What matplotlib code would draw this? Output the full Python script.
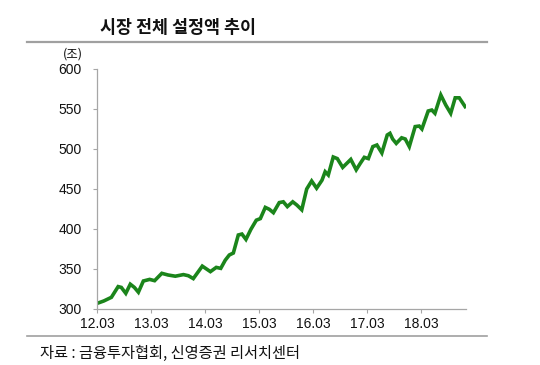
import matplotlib
matplotlib.use("Agg")
import matplotlib.pyplot as plt
from matplotlib.lines import Line2D

# months since 2012.03 and fund balance (trillion won)
months = [0.0, 1.5, 3.2, 4.7, 5.4, 6.4, 7.4, 8.3, 9.2, 10.3, 11.7, 12.8, 14.4,
          15.8, 17.4, 19.2, 20.3, 21.4, 23.4, 25.2, 26.5, 27.5, 28.5, 29.4,
          30.3, 31.4, 32.2, 33.1, 34.2, 35.4, 36.3, 37.4, 38.3, 39.2, 40.5,
          41.4, 42.3, 43.5, 44.4, 45.5, 46.6, 47.7, 48.8, 50.0, 50.7, 51.4,
          52.5, 53.4, 54.6, 55.5, 56.4, 57.6, 58.5, 59.4, 60.3, 61.3, 62.2,
          63.3, 64.5, 65.1, 65.7, 66.5, 67.7, 68.5, 69.4, 70.7, 71.6, 72.2,
          73.6, 74.4, 75.1, 76.4, 77.5, 78.6, 79.6, 80.5, 81.8]
values = [307, 310, 314.6, 328, 327, 319.6, 331, 327, 321, 335, 337, 335.4,
          344.6, 342.5, 341, 343, 341.6, 338, 353.6, 346.7, 352, 350.8, 361,
          367.5, 370, 392.5, 393.7, 387, 399.6, 411, 413, 427, 424.6, 420.4,
          433, 434, 428, 434, 430, 424, 450, 460, 451, 461, 471.6, 467.5, 490,
          488, 477, 482, 487, 474, 482, 489.6, 488, 503, 505, 495, 517.5,
          519.6, 512.5, 507, 514, 512.5, 503, 528, 528.7, 525, 547.5, 548.7,
          544.6, 567.5, 555, 544.6, 564, 564, 553]
tick_pos = [0, 12, 24, 36, 48, 60, 72]
tick_labels = ["12.03", "13.03", "14.03", "15.03", "16.03", "17.03", "18.03"]
y_ticks = [300, 350, 400, 450, 500, 550, 600]

kr = ["Noto Sans CJK KR", "DejaVu Sans"]
num = ["Liberation Sans", "DejaVu Sans"]
axis_grey = "#a6a6a6"

fig = plt.figure(figsize=(5.4, 3.65), dpi=100)
ax = fig.add_axes([97 / 540, 1 - 309 / 365, (466 - 97) / 540, 240 / 365])

ax.plot(months, values, color="#1b851b", lw=2.6, solid_joinstyle="miter")

ax.set_xlim(0, 82)
ax.set_ylim(300, 600)
ax.set_xticks(tick_pos)
ax.set_xticklabels(tick_labels, fontfamily=num, fontsize=10)
ax.set_yticks(y_ticks)
ax.set_yticklabels([str(v) for v in y_ticks], fontfamily=num, fontsize=10)
ax.tick_params(axis="both", colors=axis_grey, labelcolor="#111111",
               length=3, width=0.8)
ax.tick_params(axis="y", pad=8)
ax.tick_params(axis="x", pad=3)

for side in ["top", "right"]:
    ax.spines[side].set_visible(False)
for side in ["left", "bottom"]:
    ax.spines[side].set_color(axis_grey)
    ax.spines[side].set_linewidth(0.9)

fig.text(100 / 540, 1 - 28 / 365, "시장 전체 설정액 추이", fontfamily=kr,
         fontsize=12.5, fontweight="bold", va="center", ha="left",
         color="#111111")
fig.text(73 / 540, 1 - 54 / 365, "(조)", fontfamily=kr, fontsize=9,
         va="center", ha="center", color="#111111")
fig.text(40 / 540, 1 - 353 / 365, "자료 : 금융투자협회, 신영증권 리서치센터",
         fontfamily=kr, fontsize=11, va="center", ha="left", color="#111111")

fig.add_artist(Line2D([27 / 540, 487 / 540], [1 - 42 / 365, 1 - 42 / 365],
                      color="#a0a0a0", lw=1.6, transform=fig.transFigure))
fig.add_artist(Line2D([27 / 540, 487 / 540], [1 - 336 / 365, 1 - 336 / 365],
                      color="#a0a0a0", lw=1.2, transform=fig.transFigure))

fig.savefig("out.png", dpi=100)
